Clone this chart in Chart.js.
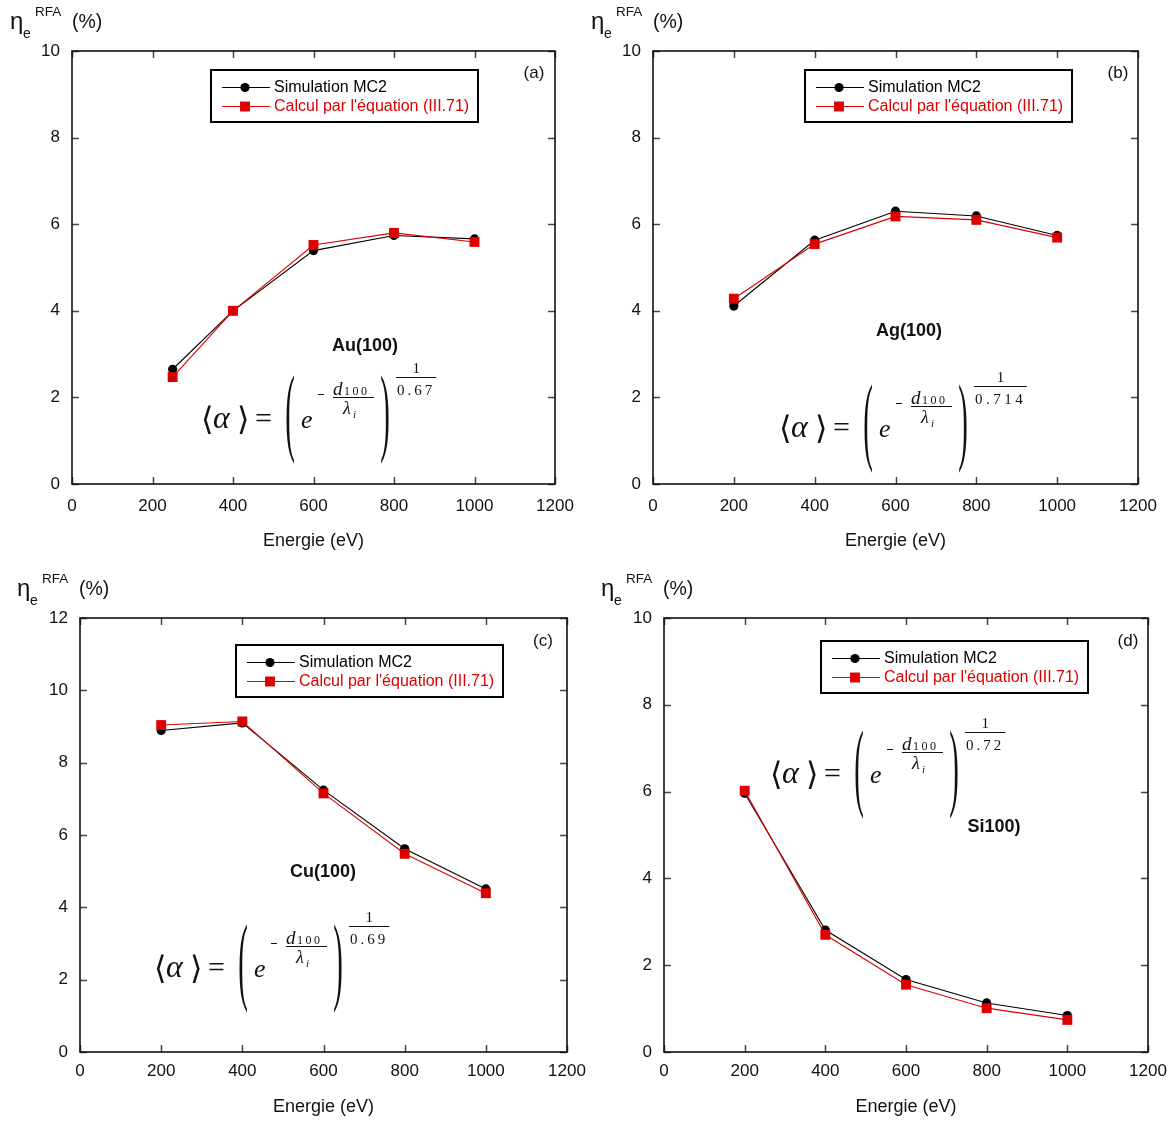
<!DOCTYPE html>
<html>
<head>
<meta charset="utf-8">
<script src="https://cdn.jsdelivr.net/npm/chart.js@4/dist/chart.umd.min.js"></script>
<style>
  html, body { margin: 0; padding: 0; background: #ffffff; }
  body { width: 1174px; height: 1122px; position: relative; overflow: hidden; }
  canvas { position: absolute; }
</style>
</head>
<body>
<canvas id="ca" width="580" height="560" style="left:0px;top:0px;width:580px;height:560px"></canvas>
<canvas id="cb" width="594" height="560" style="left:580px;top:0px;width:594px;height:560px"></canvas>
<canvas id="cc" width="590" height="562" style="left:0px;top:560px;width:590px;height:562px"></canvas>
<canvas id="cd" width="584" height="562" style="left:590px;top:560px;width:584px;height:562px"></canvas>
<script>
// ---------------- data ----------------
const energyAu = [250, 400, 600, 800, 1000];
const energy = [200, 400, 600, 800, 1000];

const simAu  = [2.65, 4.00, 5.39, 5.74, 5.66];
const calcAu = [2.47, 4.00, 5.52, 5.80, 5.59];

const simAg  = [4.11, 5.63, 6.30, 6.19, 5.74];
const calcAg = [4.28, 5.54, 6.18, 6.10, 5.69];

const simCu  = [8.89, 9.10, 7.24, 5.62, 4.51];
const calcCu = [9.04, 9.14, 7.15, 5.48, 4.39];

const simSi  = [5.96, 2.81, 1.67, 1.13, 0.84];
const calcSi = [6.02, 2.70, 1.55, 1.01, 0.74];

const seriesNames = ['Simulation MC2', "Calcul par l'équation (III.71)"];
const xAxisTitle = 'Energie (eV)';
const xMin = 0, xMax = 1200, xStep = 200;
const yStep = 2;
const yMaxABD = 10, yMaxC = 12;

// ---------------- style ----------------
const BLACK = '#000000';
const RED = '#dd0000';
const SANS = '"Liberation Sans", Arial, Helvetica, sans-serif';
const SERIF = '"Liberation Serif", "Times New Roman", "DejaVu Serif", serif';
Chart.defaults.font.family = SANS;
Chart.defaults.color = '#111';

function pts(xs, ys) { return xs.map((x, i) => ({ x: x, y: ys[i] })); }

function spacedText(ctx, text, x, y, spacing) {
  let cx = x;
  for (const ch of text) {
    ctx.fillText(ch, cx, y);
    cx += ctx.measureText(ch).width + spacing;
  }
  return cx - spacing - x;
}
function spacedWidth(ctx, text, spacing) {
  let w = 0;
  for (const ch of text) w += ctx.measureText(ch).width + spacing;
  return w - spacing;
}

function drawFormula(ctx, ax, ay, expo, expoSpacing) {
  ctx.save();
  ctx.fillStyle = '#111';
  ctx.strokeStyle = '#111';
  ctx.textAlign = 'left';
  // angle brackets, alpha, equals
  ctx.textBaseline = 'middle';
  ctx.font = '32px ' + SERIF;
  ctx.fillText('\u27E8', ax + 1, ay + 1);
  ctx.fillText('\u27E9', ax + 37, ay + 1);
  ctx.font = '30px ' + SERIF;
  ctx.fillText('=', ax + 55, ay - 1);
  ctx.textBaseline = 'alphabetic';
  ctx.font = 'italic 32px ' + SERIF;
  ctx.fillText('\u03B1', ax + 13, ay + 7);
  // big parentheses (stretched glyphs)
  ctx.font = '24px ' + SERIF;
  ctx.textBaseline = 'middle';
  ctx.textAlign = 'center';
  ctx.save(); ctx.translate(ax + 90, ay); ctx.scale(1.2, 4.1); ctx.fillText('(', 0, -1); ctx.restore();
  ctx.save(); ctx.translate(ax + 185, ay); ctx.scale(1.2, 4.1); ctx.fillText(')', 0, -1); ctx.restore();
  ctx.textAlign = 'left';
  ctx.textBaseline = 'alphabetic';
  // e
  ctx.font = 'italic 26px ' + SERIF;
  ctx.fillText('e', ax + 101, ay + 7);
  // minus
  ctx.lineWidth = 1;
  ctx.beginPath(); ctx.moveTo(ax + 118, ay - 26.5); ctx.lineTo(ax + 124, ay - 26.5); ctx.stroke();
  // d 100 / lambda i
  ctx.font = 'italic 19px ' + SERIF;
  ctx.fillText('d', ax + 133, ay - 26);
  ctx.font = '12px ' + SERIF;
  spacedText(ctx, '100', ax + 144, ay - 26, 2.5);
  ctx.beginPath(); ctx.moveTo(ax + 133, ay - 23.5); ctx.lineTo(ax + 174, ay - 23.5); ctx.stroke();
  ctx.font = 'italic 18px ' + SERIF;
  ctx.fillText('\u03BB', ax + 143, ay - 7);
  ctx.font = 'italic 11px ' + SERIF;
  ctx.fillText('i', ax + 153, ay - 3);
  // exponent 1 / expo
  ctx.font = '15px ' + SERIF;
  const ew = spacedWidth(ctx, expo, expoSpacing);
  const bx0 = ax + 196, bx1 = ax + 196 + ew + 5;
  ctx.beginPath(); ctx.moveTo(bx0, ay - 43.5); ctx.lineTo(bx1, ay - 43.5); ctx.stroke();
  ctx.textAlign = 'center';
  ctx.fillText('1', (bx0 + bx1) / 2, ay - 48);
  ctx.textAlign = 'left';
  spacedText(ctx, expo, ax + 197, ay - 26, expoSpacing);
  ctx.restore();
}

function drawYTitle(ctx, x, base) {
  ctx.save();
  ctx.fillStyle = '#111';
  ctx.textAlign = 'left';
  ctx.textBaseline = 'alphabetic';
  ctx.font = '24px ' + SANS;
  ctx.fillText('\u03B7', x, base);
  ctx.font = '14px ' + SANS;
  ctx.fillText('e', x + 13, base + 9);
  ctx.font = '13.5px ' + SANS;
  ctx.fillText('RFA', x + 25, base - 13);
  ctx.font = '19.5px ' + SANS;
  ctx.fillText('(%)', x + 62, base - 1.5);
  ctx.restore();
}

function drawLegend(chart, bx, by) {
  const ctx = chart.ctx;
  ctx.save();
  ctx.lineWidth = 2;
  ctx.strokeStyle = '#000';
  ctx.strokeRect(bx, by, 267, 52);
  chart.data.datasets.forEach((ds, i) => {
    const y = by + 17 + 19 * i;
    ctx.strokeStyle = ds.borderColor;
    ctx.lineWidth = 1;
    ctx.beginPath(); ctx.moveTo(bx + 11, y + 0.5); ctx.lineTo(bx + 59, y + 0.5); ctx.stroke();
    ctx.fillStyle = ds.backgroundColor;
    if (ds.pointStyle === 'circle') {
      ctx.beginPath(); ctx.arc(bx + 34, y + 0.5, ds.pointRadius, 0, Math.PI * 2); ctx.fill();
    } else {
      const s = ds.pointRadius * Math.SQRT1_2;
      ctx.fillRect(bx + 34 - s, y + 0.5 - s, 2 * s, 2 * s);
    }
    ctx.font = '16px ' + SANS;
    ctx.textBaseline = 'middle';
    ctx.textAlign = 'left';
    ctx.fillStyle = i === 0 ? '#000' : ds.borderColor;
    ctx.fillText(ds.label, bx + 63, y + 1);
  });
  ctx.restore();
}

function makeChart(id, p) {
  const panelPlugin = {
    id: 'panel_' + id,
    afterDraw(chart) {
      const ctx = chart.ctx;
      const a = chart.chartArea;
      const xs = chart.scales.x, ys = chart.scales.y;
      ctx.save();
      // inward tick marks on all four sides
      ctx.strokeStyle = '#444';
      ctx.lineWidth = 1.5;
      ctx.beginPath();
      xs.ticks.forEach(t => {
        const px = Math.round(xs.getPixelForValue(t.value)) + 0.5;
        ctx.moveTo(px, a.bottom); ctx.lineTo(px, a.bottom - 7);
        ctx.moveTo(px, a.top); ctx.lineTo(px, a.top + 7);
      });
      ys.ticks.forEach(t => {
        const py = Math.round(ys.getPixelForValue(t.value)) + 0.5;
        ctx.moveTo(a.left, py); ctx.lineTo(a.left + 7, py);
        ctx.moveTo(a.right, py); ctx.lineTo(a.right - 7, py);
      });
      ctx.stroke();
      // frame
      ctx.strokeStyle = '#111';
      ctx.lineWidth = 1.6;
      ctx.strokeRect(a.left, a.top, a.right - a.left, a.bottom - a.top);
      ctx.restore();

      drawLegend(chart, p.legend[0], p.legend[1]);

      ctx.save();
      ctx.fillStyle = '#111';
      ctx.textAlign = 'center';
      ctx.textBaseline = 'middle';
      ctx.font = '17px ' + SANS;
      ctx.fillText(p.letter, p.letterPos[0], p.letterPos[1]);
      ctx.font = 'bold 18px ' + SANS;
      ctx.fillText(p.name, p.namePos[0], p.namePos[1]);
      ctx.restore();

      drawFormula(ctx, p.formula[0], p.formula[1], p.expo, p.expoSpacing);
      drawYTitle(ctx, p.ytitle[0], p.ytitle[1]);
    }
  };
  return new Chart(document.getElementById(id), {
    type: 'line',
    data: {
      datasets: [
        { label: seriesNames[0], data: pts(p.xs, p.sim), borderColor: BLACK, backgroundColor: BLACK,
          borderWidth: 1.1, pointStyle: 'circle', pointRadius: 4.6, pointBorderWidth: 0, pointHoverRadius: 4.6,
          tension: 0, order: 1, fill: false },
        { label: seriesNames[1], data: pts(p.xs, p.calc), borderColor: RED, backgroundColor: RED,
          borderWidth: 1.1, pointStyle: 'rect', pointRadius: 7, pointBorderWidth: 0, pointHoverRadius: 7,
          tension: 0, order: 0, fill: false }
      ]
    },
    options: {
      responsive: false,
      animation: false,
      devicePixelRatio: 1,
      events: [],
      layout: { padding: { top: p.plot.top, right: p.w - p.plot.right, left: 0, bottom: 0 } },
      plugins: { legend: { display: false }, tooltip: { enabled: false }, title: { display: false } },
      scales: {
        x: {
          type: 'linear', min: xMin, max: xMax,
          ticks: { stepSize: xStep, padding: p.xTickPad, maxRotation: 0, autoSkip: false,
                   font: { size: 17, family: SANS }, color: '#111', callback: v => String(v) },
          grid: { display: false, drawTicks: false },
          border: { display: false },
          title: { display: true, text: xAxisTitle, color: '#111',
                   font: { size: 18, family: SANS }, padding: { top: 0, bottom: p.titlePad } },
          afterFit: s => { s.height = p.h - p.plot.bottom; s.paddingLeft = 0; s.paddingRight = 0; }
        },
        y: {
          type: 'linear', min: 0, max: p.yMax,
          ticks: { stepSize: yStep, padding: 12, font: { size: 17, family: SANS }, color: '#111',
                   callback: v => String(v) },
          grid: { display: false, drawTicks: false },
          border: { display: false },
          afterFit: s => { s.width = p.plot.left; s.paddingTop = 0; s.paddingBottom = 0; }
        }
      }
    },
    plugins: [panelPlugin]
  });
}

makeChart('ca', {
  xs: energyAu, sim: simAu, calc: calcAu, yMax: yMaxABD,
  w: 580, h: 560, plot: { left: 72, right: 555, top: 51, bottom: 484 },
  xTickPad: 12, titlePad: 8,
  legend: [211, 70], letter: '(a)', letterPos: [534, 73],
  name: 'Au(100)', namePos: [365, 346],
  formula: [200, 421], expo: '0.67', expoSpacing: 3,
  ytitle: [10, 29]
});
makeChart('cb', {
  xs: energy, sim: simAg, calc: calcAg, yMax: yMaxABD,
  w: 594, h: 560, plot: { left: 73, right: 558, top: 51, bottom: 484 },
  xTickPad: 12, titlePad: 8,
  legend: [225, 70], letter: '(b)', letterPos: [538, 73],
  name: 'Ag(100)', namePos: [329, 331],
  formula: [198, 430], expo: '0.714', expoSpacing: 3.5,
  ytitle: [11, 29]
});
makeChart('cc', {
  xs: energy, sim: simCu, calc: calcCu, yMax: yMaxC,
  w: 590, h: 562, plot: { left: 80, right: 567, top: 58, bottom: 492 },
  xTickPad: 9, titlePad: 4,
  legend: [236, 85], letter: '(c)', letterPos: [543, 81],
  name: 'Cu(100)', namePos: [323, 312],
  formula: [153, 410], expo: '0.69', expoSpacing: 3,
  ytitle: [17, 36]
});
makeChart('cd', {
  xs: energy, sim: simSi, calc: calcSi, yMax: yMaxABD,
  w: 584, h: 562, plot: { left: 74, right: 558, top: 58, bottom: 492 },
  xTickPad: 9, titlePad: 4,
  legend: [231, 81], letter: '(d)', letterPos: [538, 81],
  name: 'Si100)', namePos: [404, 267],
  formula: [179, 216], expo: '0.72', expoSpacing: 3,
  ytitle: [11, 36]
});
</script>
</body>
</html>
